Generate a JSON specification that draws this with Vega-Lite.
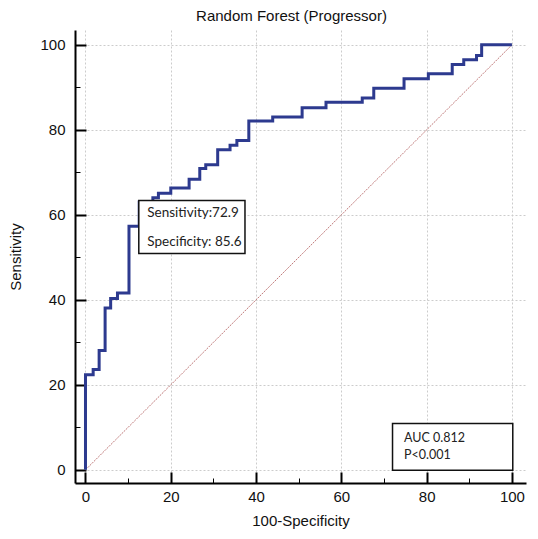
{
  "$schema": "https://vega.github.io/schema/vega-lite/v6.json",
  "width": 451,
  "height": 453,
  "autosize": "none",
  "padding": {"left": 75, "top": 30, "right": 12, "bottom": 56},
  "background": "white",
  "title": {"text": "Random Forest (Progressor)", "font": "Liberation Sans", "fontSize": 15, "fontWeight": "normal", "color": "#111", "offset": 6, "dx": -9},
  "config": {"view": {"stroke": null}},
  "datasets": {
    "roc": [
      {"fpr": 0, "sens": 0}, {"fpr": 0, "sens": 22.4}, {"fpr": 1.8, "sens": 23.6}, {"fpr": 3.2, "sens": 28.1},
      {"fpr": 4.6, "sens": 38.1}, {"fpr": 5.9, "sens": 40.3}, {"fpr": 7.5, "sens": 41.6}, {"fpr": 10.2, "sens": 57.3},
      {"fpr": 12.6, "sens": 63.0}, {"fpr": 15.8, "sens": 64.0}, {"fpr": 17.1, "sens": 65.1}, {"fpr": 20.0, "sens": 66.3},
      {"fpr": 24.3, "sens": 68.4}, {"fpr": 26.8, "sens": 70.9}, {"fpr": 28.2, "sens": 71.8}, {"fpr": 31.0, "sens": 75.3},
      {"fpr": 33.9, "sens": 76.4}, {"fpr": 35.5, "sens": 77.5}, {"fpr": 38.3, "sens": 82.1}, {"fpr": 43.9, "sens": 83.0},
      {"fpr": 50.8, "sens": 85.2}, {"fpr": 56.4, "sens": 86.5}, {"fpr": 64.9, "sens": 87.5}, {"fpr": 67.6, "sens": 89.8},
      {"fpr": 74.7, "sens": 92.0}, {"fpr": 80.4, "sens": 93.2}, {"fpr": 86.0, "sens": 95.4}, {"fpr": 88.7, "sens": 96.5},
      {"fpr": 91.7, "sens": 97.5}, {"fpr": 92.9, "sens": 100}, {"fpr": 100, "sens": 100}
    ],
    "diag": [{"fpr": 0, "sens": 0}, {"fpr": 100, "sens": 100}],
    "boxes": [
      {"x1": 12.5, "x2": 37.4, "y1": 50.9, "y2": 63.4},
      {"x1": 72.0, "x2": 100.2, "y1": -0.1, "y2": 10.9}
    ],
    "labels1": [
      {"x": 14.5, "y": 60.4, "text": "Sensitivity:72.9"},
      {"x": 14.5, "y": 53.6, "text": "Specificity: 85.6"}
    ],
    "labels2": [
      {"x": 74.7, "y": 7.5, "text": "AUC 0.812"},
      {"x": 74.7, "y": 3.6, "text": "P<0.001"}
    ]
  },
  "layer": [
    {
      "data": {"name": "diag"},
      "mark": {"type": "line", "color": "#c07a7a", "strokeWidth": 1, "strokeDash": [2, 1]},
      "encoding": {
        "x": {
          "field": "fpr", "type": "quantitative",
          "scale": {"domain": [-2.46, 103.3], "nice": false, "zero": false},
          "axis": {
            "title": "100-Specificity",
            "values": [0,5,10,15,20,25,30,35,40,45,50,55,60,65,70,75,80,85,90,95,100],
            "labelExpr": "datum.value % 20 === 0 ? datum.label : ''",
            "tickSize": {"condition": {"test": "datum.value % 20 === 0", "value": -11}, "value": -5},
            "tickWidth": {"condition": {"test": "datum.value % 20 === 0", "value": 2}, "value": 1},
            "tickColor": "black",
            "gridOpacity": {"condition": {"test": "datum.value % 20 === 0", "value": 1}, "value": 0},
            "gridColor": "#cccccc",
            "gridDash": [2, 2],
            "domainColor": "black",
            "domainWidth": 2,
            "labelFont": "Liberation Sans",
            "labelFontSize": 15,
            "labelColor": "#111",
            "labelPadding": 17,
            "titleFont": "Liberation Sans",
            "titleFontSize": 15,
            "titleFontWeight": "normal",
            "titleColor": "#111",
            "titlePadding": 9
          }
        },
        "y": {
          "field": "sens", "type": "quantitative",
          "scale": {"domain": [-3.1, 103.5], "nice": false, "zero": false},
          "axis": {
            "title": "Sensitivity",
            "values": [0,5,10,15,20,25,30,35,40,45,50,55,60,65,70,75,80,85,90,95,100],
            "labelExpr": "datum.value % 20 === 0 ? datum.label : ''",
            "tickSize": {"condition": {"test": "datum.value % 20 === 0", "value": -11}, "value": -5},
            "tickWidth": {"condition": {"test": "datum.value % 20 === 0", "value": 2}, "value": 1},
            "tickColor": "black",
            "gridOpacity": {"condition": {"test": "datum.value % 20 === 0", "value": 1}, "value": 0},
            "gridColor": "#cccccc",
            "gridDash": [2, 2],
            "domainColor": "black",
            "domainWidth": 2,
            "labelFont": "Liberation Sans",
            "labelFontSize": 15,
            "labelColor": "#111",
            "labelPadding": 21,
            "titleFont": "Liberation Sans",
            "titleFontSize": 15,
            "titleFontWeight": "normal",
            "titleColor": "#111",
            "titlePadding": 16
          }
        }
      }
    },
    {
      "data": {"name": "roc"},
      "mark": {"type": "line", "interpolate": "step-after", "color": "#2d3a8f", "strokeWidth": 3},
      "encoding": {
        "x": {"field": "fpr", "type": "quantitative"},
        "y": {"field": "sens", "type": "quantitative"}
      }
    },
    {
      "data": {"name": "boxes"},
      "mark": {"type": "rect", "fill": "white", "stroke": "#111", "strokeWidth": 1.5},
      "encoding": {
        "x": {"field": "x1", "type": "quantitative"},
        "x2": {"field": "x2"},
        "y": {"field": "y1", "type": "quantitative"},
        "y2": {"field": "y2"}
      }
    },
    {
      "data": {"name": "labels1"},
      "mark": {"type": "text", "align": "left", "baseline": "middle", "font": "Lato", "fontSize": 13.5, "color": "#222"},
      "encoding": {
        "x": {"field": "x", "type": "quantitative"},
        "y": {"field": "y", "type": "quantitative"},
        "text": {"field": "text"}
      }
    },
    {
      "data": {"name": "labels2"},
      "mark": {"type": "text", "align": "left", "baseline": "middle", "font": "Lato", "fontSize": 12.5, "color": "#222"},
      "encoding": {
        "x": {"field": "x", "type": "quantitative"},
        "y": {"field": "y", "type": "quantitative"},
        "text": {"field": "text"}
      }
    }
  ]
}
